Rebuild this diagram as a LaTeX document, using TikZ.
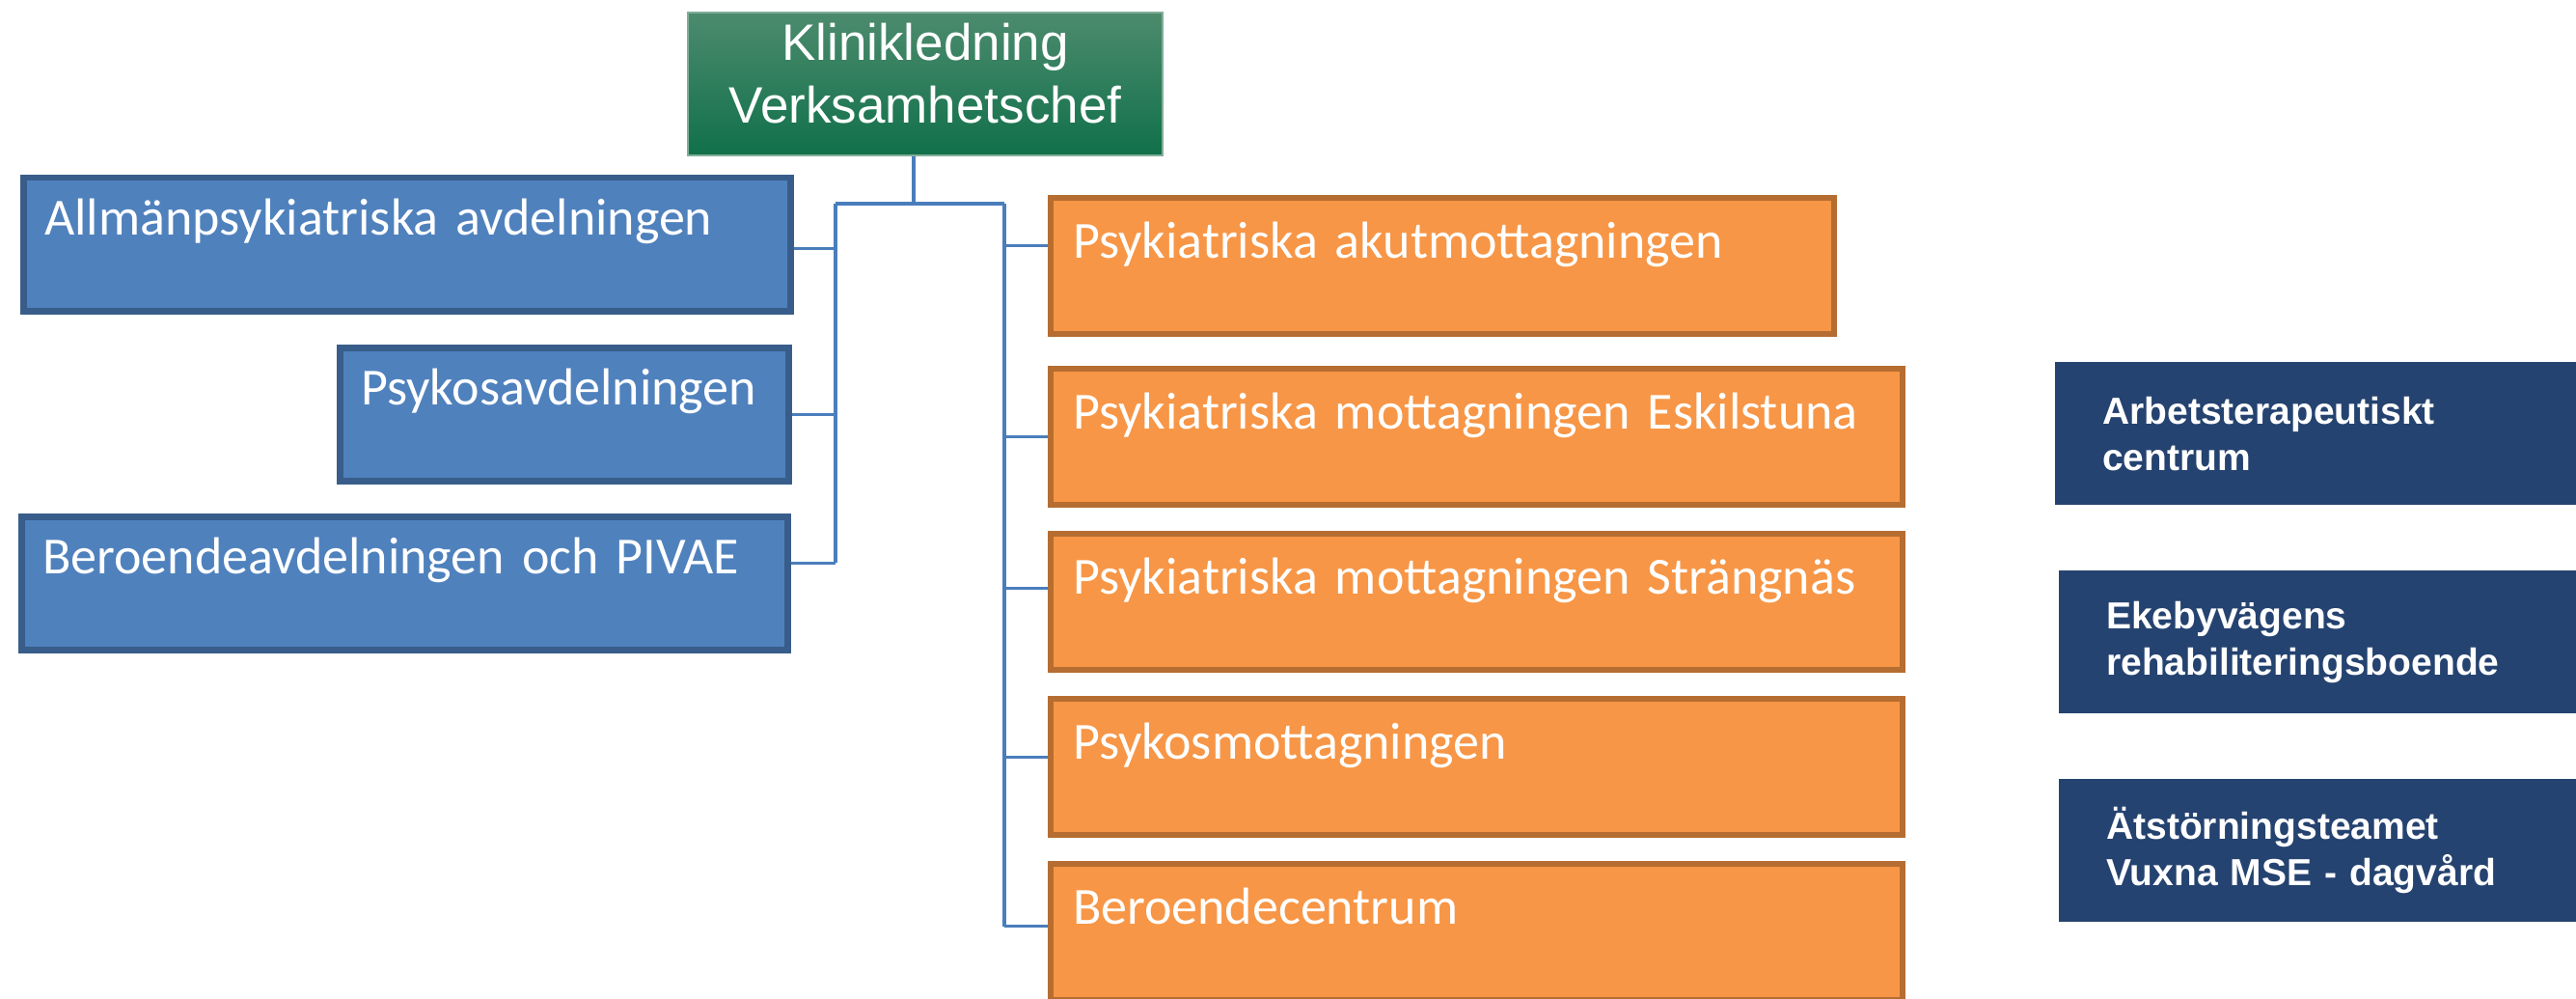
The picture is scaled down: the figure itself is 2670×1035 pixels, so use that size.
\documentclass[tikz,border=0pt]{standalone}
\usepackage{fontspec}
\setmainfont{Carlito}
\newfontfamily\arialfont{Liberation Sans}
\usepackage{xcolor}
\usetikzlibrary{positioning}

\definecolor{bosstop}{HTML}{4C8B6D}
\definecolor{bossbottom}{HTML}{10704A}
\definecolor{wardfill}{HTML}{4F81BD}
\definecolor{wardline}{HTML}{385D8A}
\definecolor{clinicfill}{HTML}{F79646}
\definecolor{clinicline}{HTML}{B66D31}
\definecolor{unitfill}{HTML}{254370}
\definecolor{treeline}{HTML}{4A7EBB}

\newcommand{\clinicfont}{\fontsize{54}{65}\selectfont}
\newcommand{\unitfont}{\arialfont\bfseries\fontsize{39}{48}\selectfont}
\newcommand{\bossfont}{\arialfont\fontsize{53}{65}\selectfont}

\begin{document}
\begin{tikzpicture}[
  x=1pt, y=-1pt,
  boss/.style={draw=bosstop!70!white, line width=1.5pt, top color=bosstop, bottom color=bossbottom, text=white, font=\bossfont, align=center, inner sep=0pt, minimum width=492pt, minimum height=148pt},
  ward/.style={draw=wardline, fill=wardfill, line width=6.5pt, text=white, font=\clinicfont, align=left, inner xsep=22pt, inner ysep=0pt, text height=59pt, text depth=79pt, anchor=north west},
  clinic/.style={draw=clinicline, fill=clinicfill, line width=6pt, text=white, font=\clinicfont, align=left, inner xsep=23pt, inner ysep=0pt, text height=62pt, text depth=79pt, anchor=north west},
  unit/.style={fill=unitfill, text=white, font=\unitfont, align=left, inner xsep=49pt, text width=460pt, minimum height=148pt, anchor=north west},
  tree/.style={draw=treeline, line width=3.2pt}
]
\useasboundingbox (0,0) rectangle (2670,1035);
\clip (0,0) rectangle (2670,1035);

% ledning
\node[boss] (chief) at (959,87) {Klinikledning\\Verksamhetschef\rule[-22pt]{0pt}{22pt}};

% avdelningar
\node[ward, text width=751pt] (b1) at (21,181) {Allmänpsykiatriska avdelningen};
\node[ward, text width=421pt] (b2) at (349,357) {Psykosavdelningen};
\node[ward, text width=750pt] (b3) at (19,532) {Beroendeavdelningen och PIVAE};

% mottagningar
\node[clinic, text width=766pt] (o1) at (1086,202) {Psykiatriska akutmottagningen};
\node[clinic, text width=837pt, below=30pt of o1.south west, anchor=north west] (o2) {Psykiatriska mottagningen Eskilstuna};
\node[clinic, text width=837pt, below=24pt of o2] (o3) {Psykiatriska mottagningen Strängnäs};
\node[clinic, text width=837pt, below=24pt of o3] (o4) {Psykosmottagningen};
\node[clinic, text width=837pt, below=24pt of o4] (o5) {Beroendecentrum};

% fristående enheter
\node[unit] (u1) at (2130,375) {Arbetsterapeutiskt\\centrum};
\node[unit] (u2) at (2134,591) {Ekebyvägens\\rehabiliteringsboende};
\node[unit] (u3) at (2134,807) {Ätstörningsteamet\\Vuxna MSE - dagvård};

% linjer
\coordinate (hub) at (947,211);
\coordinate (lbus) at (866,211);
\coordinate (rbus) at (1041,211);
\draw[tree] ([xshift=-12pt]chief.south) -- (hub);
\draw[tree] (lbus) -- (rbus);

\coordinate (b1tap) at ([yshift=-4pt]b1.east);
\coordinate (b3tap) at ([yshift=21pt]b3.east);
\draw[tree] (b1tap) -- (b1tap -| lbus);
\draw[tree] (b2.east) -- (b2.east -| lbus);
\draw[tree] (b3tap) -- (b3tap -| lbus);
\draw[tree] (lbus) -- (b3tap -| lbus);

\coordinate (o1tap) at ([yshift=21pt]o1.west);
\coordinate (o3tap) at ([yshift=14pt]o3.west);
\coordinate (o4tap) at ([yshift=10pt]o4.west);
\coordinate (o5tap) at ([yshift=6pt]o5.west);
\draw[tree] (o1tap) -- (o1tap -| rbus);
\draw[tree] (o2.west) -- (o2.west -| rbus);
\draw[tree] (o3tap) -- (o3tap -| rbus);
\draw[tree] (o4tap) -- (o4tap -| rbus);
\draw[tree] (o5tap) -- (o5tap -| rbus);
\draw[tree] (rbus) -- (o5tap -| rbus);
\end{tikzpicture}
\end{document}
